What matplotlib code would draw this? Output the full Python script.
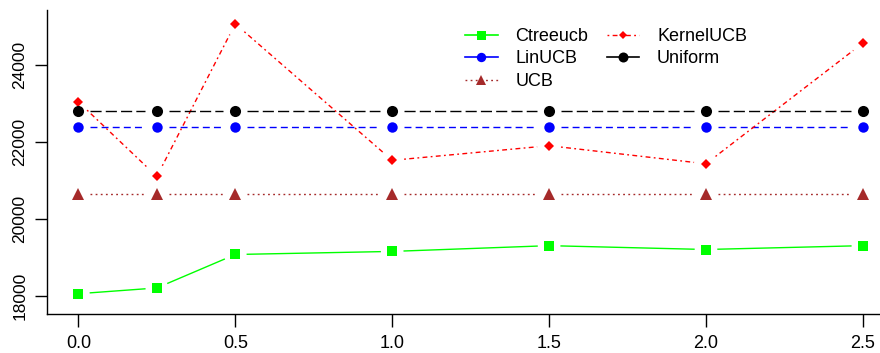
import numpy as np
import matplotlib
matplotlib.use("Agg")
import matplotlib.pyplot as plt
from matplotlib.lines import Line2D

plt.rcParams['font.family'] = ['Liberation Sans', 'DejaVu Sans']

x = [0.0, 0.25, 0.5, 1.0, 1.5, 2.0, 2.5]
ctreeucb = [18050, 18200, 19070, 19150, 19300, 19200, 19300]
linucb = [22380, 22380, 22380, 22380, 22380, 22380, 22380]
ucb = [20650, 20650, 20650, 20650, 20650, 20650, 20650]
kernelucb = [23040, 21100, 25070, 21520, 21900, 21430, 24570]
uniform = [22800, 22800, 22800, 22800, 22800, 22800, 22800]

xticks = [0.0, 0.5, 1.0, 1.5, 2.0, 2.5]
xticklabels = ["0.0", "0.5", "1.0", "1.5", "2.0", "2.5"]
yticks = [18000, 20000, 22000, 24000]
yticklabels = ["18000", "20000", "22000", "24000"]

W, H = 880, 353
fig = plt.figure(figsize=(W / 100, H / 100), dpi=100)
ax = fig.add_axes([47 / W, 1 - 313.7 / H, (880 - 47) / W, (313.7 - 10) / H])
ax.set_xlim(-0.1, 2.5545)
ax.set_ylim(17530, 25430)
for s in ['top', 'right']:
    ax.spines[s].set_visible(False)
ax.spines['left'].set_linewidth(1.0)
ax.spines['bottom'].set_linewidth(1.0)

series = [
    ("Ctreeucb", ctreeucb, '#00ff00', 's', 7.2, '-'),
    ("LinUCB", linucb, '#0000ff', 'o', 7.5, (0, (5, 3))),
    ("UCB", ucb, '#a52a2a', '^', 8.0, (0, (1.3, 2.4))),
    ("KernelUCB", kernelucb, '#ff0000', 'D', 5.0, (0, (1.3, 2.4, 3.5, 2.4))),
    ("Uniform", uniform, '#000000', 'o', 8.0, (0, (8, 3))),
]

fig.canvas.draw()
trans = ax.transData
inv = trans.inverted()
gap = 12.0
handles = []
for name, vals, col, mk, ms, ls in series:
    pts = trans.transform(np.column_stack([x, vals]))
    for i in range(len(pts) - 1):
        p0, p1 = pts[i], pts[i + 1]
        d = p1 - p0
        L = np.hypot(*d)
        if L <= 2 * gap:
            continue
        u = d / L
        q = inv.transform(np.vstack([p0 + u * gap, p1 - u * gap]))
        ax.plot(q[:, 0], q[:, 1], color=col, lw=1.0, linestyle=ls, clip_on=False)
    ax.plot(x, vals, linestyle='none', marker=mk, markersize=ms, color=col,
            markeredgewidth=0, clip_on=False, zorder=3)
    handles.append(Line2D([], [], color=col, lw=1.2 if name in ("Ctreeucb", "LinUCB", "Uniform") else 1.0,
                          linestyle=ls if name in ("UCB", "KernelUCB") else '-',
                          marker=mk, markersize=ms * 0.9, markeredgewidth=0))

ax.set_xticks(xticks)
ax.set_xticklabels(xticklabels)
ax.set_yticks(yticks)
ax.set_yticklabels(yticklabels, rotation=90, va='center')
ax.tick_params(axis='x', length=9, width=1, pad=6, labelsize=13)
ax.tick_params(axis='y', length=9, width=1, pad=5, labelsize=12.5)

leg = fig.legend(handles, [s[0] for s in series], ncol=2, loc='upper left',
                 bbox_to_anchor=(456 / W, 1 - 19 / H), frameon=False, fontsize=13,
                 handlelength=1.8, handletextpad=1.0, columnspacing=1.0,
                 labelspacing=0.3, borderpad=0)

fig.savefig("out.png", dpi=100)
